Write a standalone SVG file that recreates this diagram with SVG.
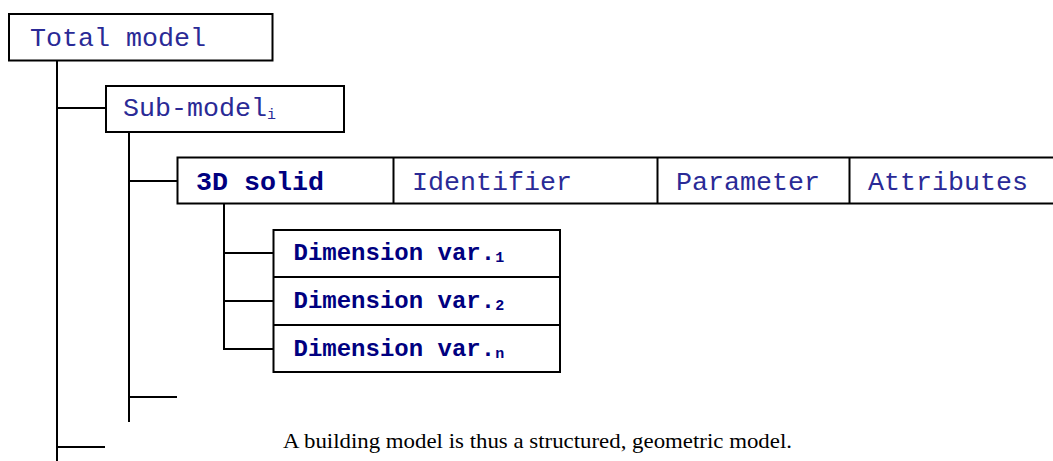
<svg xmlns="http://www.w3.org/2000/svg" width="1053" height="461" viewBox="0 0 1053 461">
  <style>
    .box { fill: #ffffff; stroke: #000000; stroke-width: 2; }
    .link { fill: none; stroke: #000000; stroke-width: 2; }
    .mono { font-family: "Liberation Mono", "Courier New", monospace; font-size: 26.67px; fill: #2a2a96; }
    .bold { font-weight: bold; fill: #000080; }
    .dim { font-family: "Liberation Mono", "Courier New", monospace; font-size: 24px; font-weight: bold; fill: #000080; }
    .sub { font-size: 15px; }
    .caption { font-family: "Liberation Serif", "Times New Roman", serif; font-size: 21px; fill: #000000; }
  </style>

  <!-- tree connectors -->
  <g id="connectors">
    <path class="link" d="M57 61 V461 M57 108 H106 M57 447 H105"/>
    <path class="link" d="M129 132 V422 M129 181 H177 M129 397 H177"/>
    <path class="link" d="M224 204 V350 M224 253 H273 M224 301 H273 M224 349 H273"/>
  </g>

  <g id="total-model">
    <rect class="box" x="9" y="14" width="263.5" height="46.5"/>
    <text class="mono" x="30" y="46">Total model</text>
  </g>

  <g id="sub-model">
    <rect class="box" x="106" y="86" width="238" height="46"/>
    <text class="mono" x="123" y="116">Sub-model<tspan class="sub" dy="3">i</tspan></text>
  </g>

  <g id="solid-row">
    <rect class="box" x="177.5" y="157.5" width="890" height="46"/>
    <path class="link" d="M393.5 157.5 V203.5 M657.5 157.5 V203.5 M849.5 157.5 V203.5"/>
    <text class="mono bold" x="196" y="190">3D solid</text>
    <text class="mono" x="412" y="190">Identifier</text>
    <text class="mono" x="676" y="190">Parameter</text>
    <text class="mono" x="868" y="190">Attributes</text>
  </g>

  <g id="dimension-vars">
    <rect class="box" x="273.5" y="230" width="286.5" height="142"/>
    <path class="link" d="M273.5 277 H560 M273.5 325 H560"/>
    <text class="dim" x="293.5" y="260">Dimension var.<tspan class="sub" dy="2">1</tspan></text>
    <text class="dim" x="293.5" y="308">Dimension var.<tspan class="sub" dy="2">2</tspan></text>
    <text class="dim" x="293.5" y="356">Dimension var.<tspan class="sub" dy="2">n</tspan></text>
  </g>

  <text class="caption" x="283" y="448" textLength="509" lengthAdjust="spacingAndGlyphs">A building model is thus a structured, geometric model.</text>
</svg>
